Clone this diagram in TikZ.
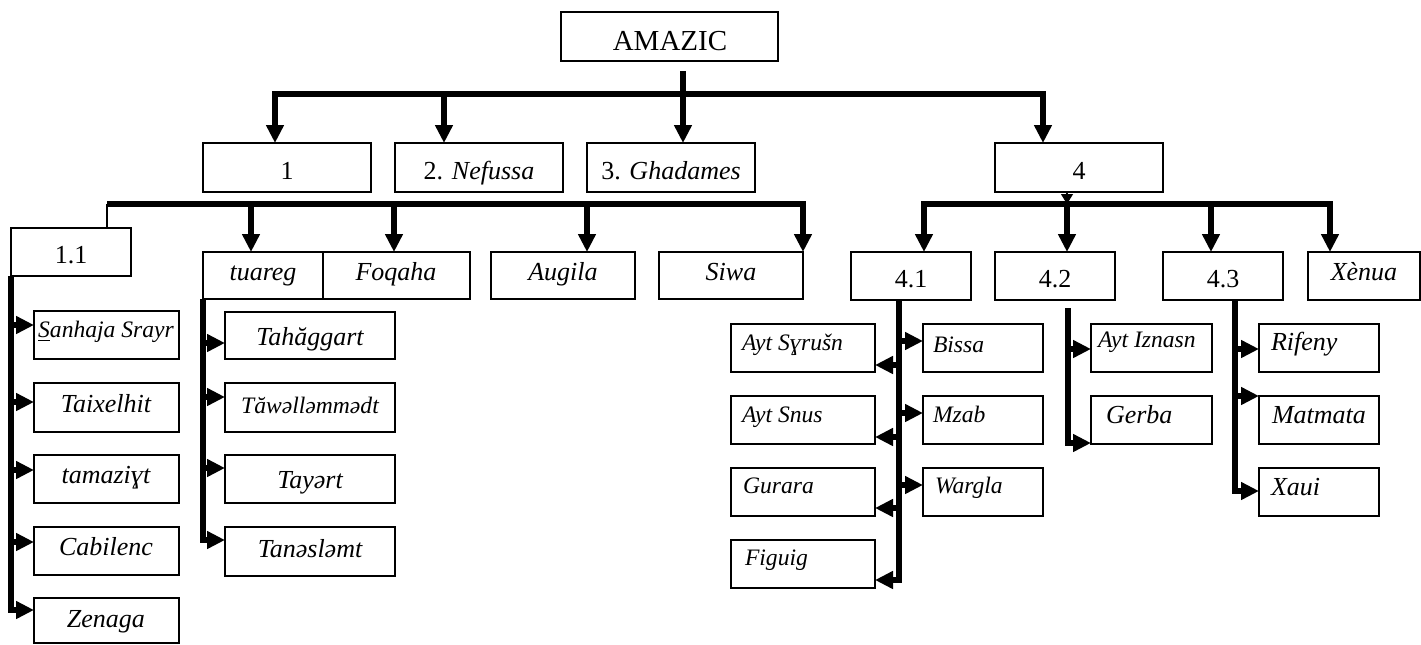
\documentclass[tikz,border=0pt]{standalone}
\usepackage{fontspec}
\setmainfont{Liberation Serif}
\usetikzlibrary{arrows.meta}
\newcommand\fA{\fontsize{14.5}{16}\selectfont}
\newcommand\fB{\fontsize{13}{15}\selectfont}
\newcommand\fC{\fontsize{11.8}{14}\selectfont}
\newcommand\mybox[5]{\node[bx, minimum width={(#4-#2)*0.5pt}, minimum height={(#5-#3)*0.5pt}] (#1) at ({(#2+#4)/2},{(#3+#5)/2}) {};}
\newcommand\mytext[5]{\node[tx, anchor=#4] (#1) at (#2,#3) {#5};}
\begin{document}
\begin{tikzpicture}[x=0.5pt,y=-0.5pt,
  bx/.style={draw, line width=0.6pt, inner sep=0pt, outer sep=0pt},
  tx/.style={inner sep=0pt, outer sep=0pt},
  thickline/.style={line width=2.6pt, line join=miter},
  thinline/.style={line width=0.6pt},
  arr/.style={thickline, -{Triangle[length=9pt,width=8.5pt]}},
  smallarr/.style={thinline, -{Triangle[length=5pt,width=6pt]}}]
\useasboundingbox (0,0) rectangle (1421,644);

% ---------- boxes ----------
\mybox{amz}{561}{12}{778}{61}
\mybox{b1}{203}{143}{371}{192}
\mybox{b2}{395}{143}{563}{192}
\mybox{b3}{587}{143}{755}{192}
\mybox{b4}{995}{143}{1163}{192}
\mybox{b11}{11}{228}{131}{276}
\mybox{tua}{203}{252}{323}{299}
\mybox{foq}{323}{252}{470}{299}
\mybox{aug}{491}{252}{635}{299}
\mybox{siw}{659}{252}{803}{299}
\mybox{b41}{851}{252}{971}{300}
\mybox{b42}{995}{252}{1115}{300}
\mybox{b43}{1163}{252}{1283}{300}
\mybox{xen}{1308}{252}{1420}{300}
% 1.1 children
\mybox{san}{34}{311}{179}{359}
\mybox{tai}{34}{383}{179}{432}
\mybox{tam}{34}{455}{179}{503}
\mybox{cab}{34}{527}{179}{575}
\mybox{zen}{34}{598}{179}{643}
% tuareg children
\mybox{tah}{225}{312}{395}{359}
\mybox{taw}{225}{383}{395}{432}
\mybox{tay}{225}{455}{395}{503}
\mybox{tan}{225}{527}{395}{576}
% 4.1 children
\mybox{ays}{731}{324}{875}{372}
\mybox{asn}{731}{396}{875}{444}
\mybox{gur}{731}{468}{875}{516}
\mybox{fig}{731}{540}{875}{588}
\mybox{bis}{923}{324}{1043}{372}
\mybox{mza}{923}{396}{1043}{444}
\mybox{war}{923}{468}{1043}{516}
% 4.2 children
\mybox{ayi}{1091}{324}{1212}{372}
\mybox{ger}{1091}{396}{1212}{444}
% 4.3 children
\mybox{rif}{1259}{324}{1379}{372}
\mybox{mat}{1259}{396}{1379}{444}
\mybox{xau}{1259}{468}{1379}{516}

% ---------- texts ----------
\mytext{tamz}{670}{50}{base}{\fA AMAZIC}
\mytext{t1}{287}{179}{base}{\fB 1}
\mytext{t2}{479}{179}{base}{\fB 2. \textit{Nefussa}}
\mytext{t3}{671}{179}{base}{\fB 3. \textit{Ghadames}}
\mytext{t4}{1079}{179}{base}{\fB 4}
\mytext{t11}{71}{263}{base}{\fB 1.1}
\mytext{ttua}{263}{280}{base}{\fB\itshape tuareg}
\mytext{tfoq}{396}{280}{base}{\fB\itshape Foqaha}
\mytext{taug}{563}{280}{base}{\fB\itshape Augila}
\mytext{tsiw}{731}{280}{base}{\fB\itshape Siwa}
\mytext{t41}{911}{287}{base}{\fB 4.1}
\mytext{t42}{1055}{287}{base}{\fB 4.2}
\mytext{t43}{1223}{287}{base}{\fB 4.3}
\mytext{txen}{1364}{280}{base}{\fB\itshape Xènua}

\mytext{tsan}{106}{337}{base}{\fC\itshape \underline{S}anhaja Srayr}
\mytext{ttai}{106}{412}{base}{\fB\itshape Taixelhit}
\mytext{ttam}{106}{483}{base}{\fB\itshape tamaziɣt}
\mytext{tcab}{106}{555}{base}{\fB\itshape Cabilenc}
\mytext{tzen}{106}{627}{base}{\fB\itshape Zenaga}

\mytext{ttah}{310}{345}{base}{\fB\itshape Tahăggart}
\mytext{ttaw}{310}{413}{base}{\fC\itshape Tăwəlləmmədt}
\mytext{ttay}{310}{488}{base}{\fB\itshape Tayərt}
\mytext{ttan}{310}{557}{base}{\fB\itshape Tanəsləmt}

\mytext{tays}{742}{350}{base west}{\fC\itshape Ayt Sɣrušn}
\mytext{tasn}{742}{422}{base west}{\fC\itshape Ayt Snus}
\mytext{tgur}{743}{493}{base west}{\fC\itshape Gurara}
\mytext{tfig}{745}{565}{base west}{\fC\itshape Figuig}
\mytext{tbis}{933}{352}{base west}{\fC\itshape Bissa}
\mytext{tmza}{933}{422}{base west}{\fC\itshape Mzab}
\mytext{twar}{935}{493}{base west}{\fC\itshape Wargla}

\mytext{tayi}{1098}{347}{base west}{\fC\itshape Ayt Iznasn}
\mytext{tger}{1106}{423}{base west}{\fB\itshape Gerba}

\mytext{trif}{1271}{350}{base west}{\fB\itshape Rifeny}
\mytext{tmat}{1272}{423}{base west}{\fB\itshape Matmata}
\mytext{txau}{1271}{495}{base west}{\fB\itshape Xaui}

% ---------- level 1 ----------
\coordinate (m0) at (683,71);
\coordinate (m1) at (683,94);
\draw[thickline] (m0) -- (m1);
\draw[arr] (m1) -| (b1.north -| 275,0);
\draw[arr] (m1) -| (b4.north -| 1043,0);
\draw[arr] (444,94) -- (b2.north -| 444,0);
\draw[arr] (m1) -- (b3.north -| 683,0);

% ---------- level 2 left ----------
\coordinate (l0) at (107,204);
\coordinate (l1) at (587,204);
\draw[thinline] (b11.north -| 107,0) -- (l0);
\draw[arr] (l0) -| (siw.north -| 803,0);
\draw[arr] (251,204) -- (tua.north -| 251,0);
\draw[arr] (394,204) -- (foq.north -| 394,0);
\draw[arr] (l1) -- (aug.north -| 587,0);

% ---------- level 2 right ----------
\coordinate (r0) at (1067,204);
\draw[smallarr] (b4.south -| r0) -- (r0);
\draw[arr] (r0) -| (b41.north -| 924,0);
\draw[arr] (r0) -| (xen.north -| 1330,0);
\draw[arr] (r0) -- (b42.north -| r0);
\draw[arr] (1211,204) -- (b43.north -| 1211,0);

% ---------- 1.1 children ----------
\draw[thickline] (b11.south west) -- (11,610);
\draw[arr] (11,325) -- (san.west |- 0,325);
\draw[arr] (11,402) -- (tai.west |- 0,402);
\draw[arr] (11,470) -- (tam.west |- 0,470);
\draw[arr] (11,542) -- (cab.west |- 0,542);
\draw[arr] (b11.south west) -- (11,610) -- (zen.west |- 0,610);

% ---------- tuareg children ----------
\draw[arr] (tua.south west) -- (203,540) -- (tan.west |- 0,540);
\draw[arr] (203,343) -- (tah.west |- 0,343);
\draw[arr] (203,397) -- (taw.west |- 0,397);
\draw[arr] (203,468) -- (tay.west |- 0,468);

% ---------- 4.1 children ----------
\draw[arr] (b41.south -| 899,0) -- (899,580) -- (fig.east |- 0,580);
\draw[arr] (899,365) -- (ays.east |- 0,365);
\draw[arr] (899,437) -- (asn.east |- 0,437);
\draw[arr] (899,508) -- (gur.east |- 0,508);
\draw[arr] (899,341) -- (bis.west |- 0,341);
\draw[arr] (899,413) -- (mza.west |- 0,413);
\draw[arr] (899,485) -- (war.west |- 0,485);

% ---------- 4.2 children ----------
\draw[arr] (1068,308) -- (1068,443) -- (ger.west |- 0,443);
\draw[arr] (1068,349) -- (ayi.west |- 0,349);

% ---------- 4.3 children ----------
\draw[arr] (b43.south -| 1235,0) -- (1235,491) -- (xau.west |- 0,491);
\draw[arr] (1235,349) -- (rif.west |- 0,349);
\draw[arr] (1235,396) -- (mat.west |- 0,396);
\end{tikzpicture}
\end{document}
